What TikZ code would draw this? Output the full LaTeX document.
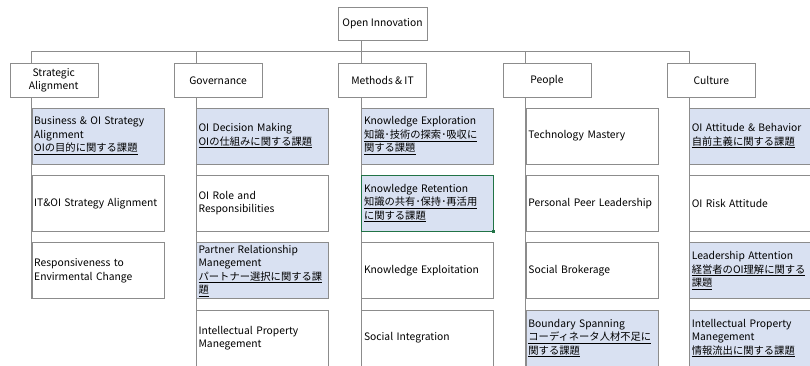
\documentclass[tikz,border=0pt]{standalone}
\usepackage{fontspec}
\setmainfont{Noto Sans CJK JP}
\usetikzlibrary{positioning,backgrounds}

\definecolor{cellblue}{HTML}{D9E1F2}
\definecolor{cellgrid}{HTML}{8C8C8C}
\definecolor{selgreen}{HTML}{217346}

\newcommand{\kadai}[1]{\underline{#1}}

\begin{document}
\begin{tikzpicture}
[x=1pt, y=-1pt,
every node/.style={font=\fontsize{10.3}{13.5}\selectfont},
root/.style={rectangle, draw=cellgrid, fill=white,
minimum width=89pt, minimum height=33pt, inner sep=2pt},
pillar/.style={rectangle, draw=cellgrid, fill=white, align=center,
minimum width=88pt, minimum height=34pt, inner sep=2pt},
item/.style={rectangle, draw=cellgrid, fill=white, text width=127pt,
align=left, minimum height=56pt, inner xsep=2.5pt, inner ysep=0pt},
issue/.style={item, fill=cellblue},
selected/.style={draw=selgreen},
handle/.style={rectangle, fill=selgreen, minimum size=3pt, inner sep=0pt},
link/.style={draw=cellgrid, line width=0.8pt}]

\useasboundingbox (0,0) rectangle (810,365);
\clip (0,0) rectangle (810,365);

% Draw top and pillars
\node [root] (oi) at (382.5,23.5) {Open Innovation};
\node [pillar, below=23pt of oi] (mi) {Methods \& IT};
\node [pillar, left=76pt of mi] (gov) {Governance};
\node [pillar, left=76pt of gov] (sa) {Strategic\\Alignment};
\node [pillar, right=76pt of mi] (ppl) {People};
\node [pillar, right=76pt of ppl] (cul) {Culture};

% Strategic Alignment
\node [issue, below=10pt of sa.south west, anchor=north west, xshift=22pt] (sa1)
{Business \& OI Strategy\\Alignment\\\kadai{OIの目的に関する課題}};
\node [item, below=11pt of sa1] (sa2) {IT\&OI Strategy Alignment};
\node [item, below=11pt of sa2] (sa3) {Responsiveness to\\Envirmental Change};

% Governance
\node [issue, below=10pt of gov.south west, anchor=north west, xshift=22pt] (gov1)
{OI Decision Making\\\kadai{OIの仕組みに関する課題}};
\node [item, below=11pt of gov1] (gov2) {OI Role and\\Responsibilities};
\node [issue, below=11pt of gov2] (gov3)
{Partner Relationship\\Manegement\\\kadai{パートナー選択に関する課}\\\kadai{題}};
\node [item, below=11pt of gov3] (gov4) {Intellectual Property\\Manegement};

% Methods & IT
\node [issue, below=10pt of mi.south west, anchor=north west, xshift=23pt] (mi1)
{Knowledge Exploration\\\kadai{知識･技術の探索･吸収に}\\\kadai{関する課題}};
\node [issue, selected, below=11pt of mi1] (mi2)
{Knowledge Retention\\\kadai{知識の共有･保持･再活用}\\\kadai{に関する課題}};
\node [handle] at (mi2.south east) {};
\node [item, below=11pt of mi2] (mi3) {Knowledge Exploitation};
\node [item, below=11pt of mi3] (mi4) {Social Integration};

% People
\node [item, below=10pt of ppl.south west, anchor=north west, xshift=23pt] (ppl1)
{Technology Mastery};
\node [item, below=11pt of ppl1] (ppl2) {Personal Peer Leadership};
\node [item, below=11pt of ppl2] (ppl3) {Social Brokerage};
\node [issue, below=11pt of ppl3] (ppl4)
{Boundary Spanning\\\kadai{コーディネータ人材不足に}\\\kadai{関する課題}};

% Culture
\node [issue, below=10pt of cul.south west, anchor=north west, xshift=22pt] (cul1)
{OI Attitude \& Behavior\\\kadai{自前主義に関する課題}};
\node [item, below=11pt of cul1] (cul2) {OI Risk Attitude};
\node [issue, below=11pt of cul2] (cul3)
{Leadership Attention\\\kadai{経営者のOI理解に関する}\\\kadai{課題}};
\node [issue, below=11pt of cul3] (cul4)
{Intellectual Property\\Manegement\\\kadai{情報流出に関する課題}};

% Tree lines behind the boxes
\coordinate (bus) at (0,51);
\begin{pgfonlayer}{background}
\path[link]
(mi1.west |- oi.south) edge (mi1.west |- bus)
(sa1.west |- bus) edge (cul1.west |- bus)
(sa1.west |- bus) edge (sa3.south west)
(gov1.west |- bus) edge (gov4.south west)
(mi1.west |- bus) edge (mi4.south west)
(ppl1.west |- bus) edge (ppl4.south west)
(cul1.west |- bus) edge (cul4.south west);
\end{pgfonlayer}

\end{tikzpicture}
\end{document}
